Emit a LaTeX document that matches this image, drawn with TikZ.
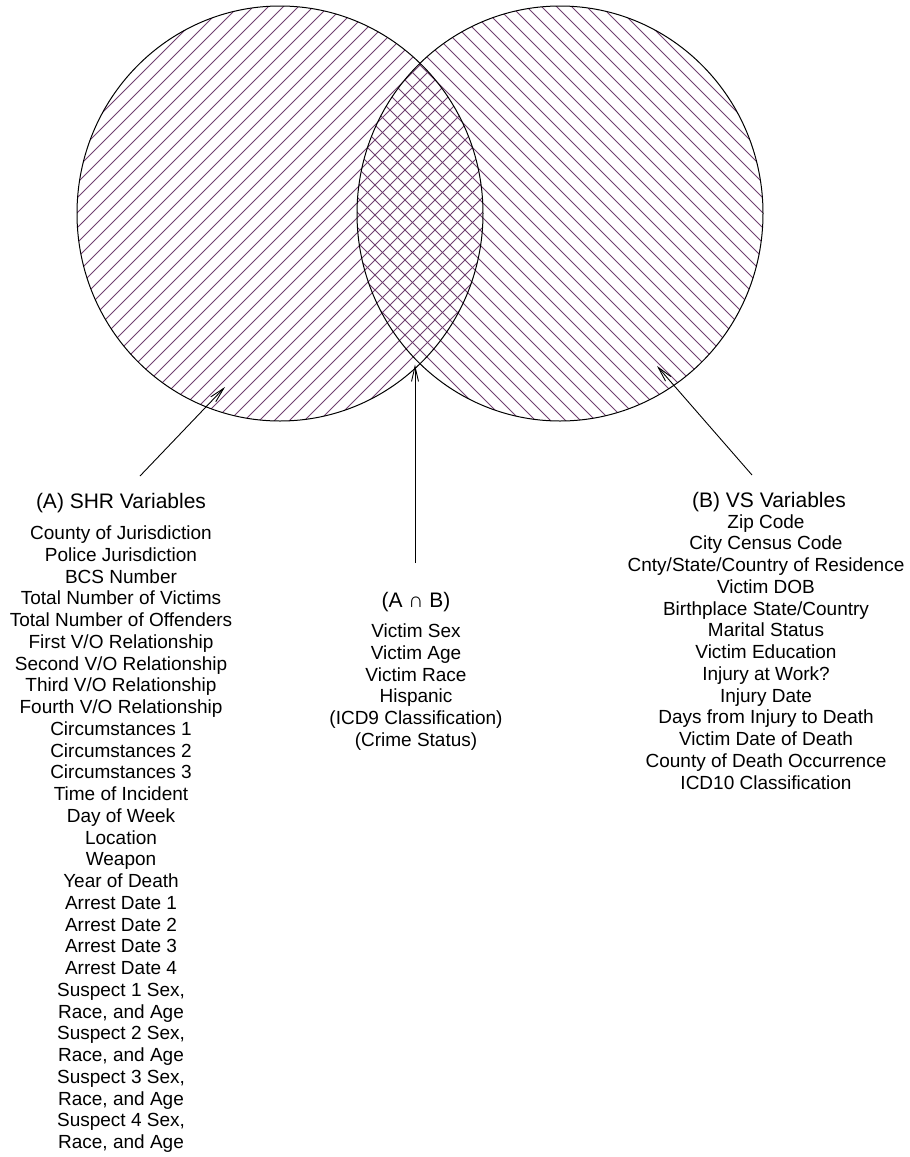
\documentclass[tikz,border=0pt]{standalone}
\usepackage{fontspec}
\setmainfont{Liberation Sans}
\usetikzlibrary{arrows.meta}
\definecolor{hatch}{RGB}{112,64,112}
\begin{document}
\begin{tikzpicture}[x=1pt,y=-1pt,
  item/.style={font=\fontsize{19}{21.75}\selectfont, inner sep=0pt, anchor=base},
  head/.style={font=\fontsize{21}{24}\selectfont, inner sep=0pt, anchor=base},
  hatchline/.style={draw=hatch, line width=0.8pt},
  ring/.style={draw=black, line width=1pt},
  pointer/.style={draw=black, line width=0.9pt, -{Straight Barb[length=15pt,width=7pt]}}]
\useasboundingbox (0,0) rectangle (910,1157);
\coordinate (cA) at (280,213.5);
\coordinate (cB) at (560,213.5);
\begin{scope}
  \clip (cA) ellipse [x radius=203pt, y radius=207.5pt];
  \foreach \c in {0,15,...,1110} \draw[hatchline] (\c,-10) -- (\c-600,590);
\end{scope}
\begin{scope}
  \clip (cB) ellipse [x radius=203pt, y radius=207.5pt];
  \foreach \c in {-600,-585,...,900} \draw[hatchline] (\c,-10) -- (\c+600,590);
\end{scope}
\draw[ring] (cA) ellipse [x radius=203pt, y radius=207.5pt];
\draw[ring] (cB) ellipse [x radius=203pt, y radius=207.5pt];

% headers
\node[head] (hA) at (121,508) {(A) SHR Variables};
\node[head] (hB) at (769,507) {(B) VS Variables};
\node[head] (hAB) at (416,607) {(A ∩ B)};

% left list
\foreach \t [count=\i from 0] in {County of Jurisdiction, Police Jurisdiction, BCS Number,
  Total Number of Victims, Total Number of Offenders, First V/O Relationship,
  Second V/O Relationship, Third V/O Relationship, Fourth V/O Relationship,
  Circumstances 1, Circumstances 2, Circumstances 3, Time of Incident, Day of Week,
  Location, Weapon, Year of Death, Arrest Date 1, Arrest Date 2, Arrest Date 3,
  Arrest Date 4, {Suspect 1 Sex,}, {Race, and Age}, {Suspect 2 Sex,}, {Race, and Age},
  {Suspect 3 Sex,}, {Race, and Age}, {Suspect 4 Sex,}, {Race, and Age}}
  \node[item] (a\i) at (121,539.5+21.75*\i) {\t};

% middle list
\foreach \t [count=\i from 0] in {Victim Sex, Victim Age, Victim Race, Hispanic,
  (ICD9 Classification), (Crime Status)}
  \node[item] (m\i) at (416,637.5+21.75*\i) {\t};

% right list
\foreach \t [count=\i from 0] in {Zip Code, City Census Code, Cnty/State/Country of Residence,
  Victim DOB, Birthplace State/Country, Marital Status, Victim Education, Injury at Work?,
  Injury Date, Days from Injury to Death, Victim Date of Death, County of Death Occurrence,
  ICD10 Classification}
  \node[item] (b\i) at (766,528+21.75*\i) {\t};

% arrows
\coordinate (tailA) at (140,476);
\coordinate (tipA) at (225,387);
\coordinate (tailM) at (415,563);
\coordinate (tipM) at (415,364.5);
\coordinate (tailB) at (752,475);
\coordinate (tipB) at (657,366);
\draw[pointer] (tailA) -- (tipA);
\draw[pointer] (tailM) -- (tipM);
\draw[pointer] (tailB) -- (tipB);
\end{tikzpicture}
\end{document}
